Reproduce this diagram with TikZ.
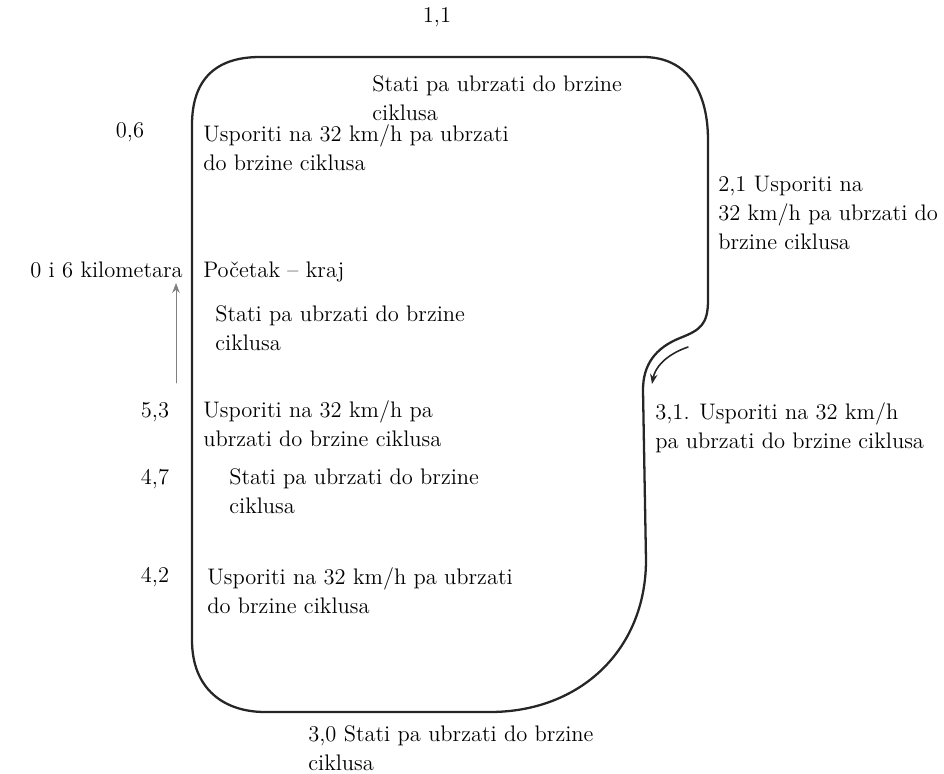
\documentclass[tikz,border=0pt]{standalone}
\usepackage{tikz}
\usetikzlibrary{arrows.meta}
\usepackage{xcolor}
\begin{document}
\begin{tikzpicture}[x=0.02cm,y=-0.02cm,>={Stealth[length=2mm]},font=\fontsize{12.8}{16.5}\selectfont,line cap=round,
  lbl/.style={anchor=base west,align=left,inner sep=0pt},
  km/.style={anchor=base,inner sep=0pt}]
\useasboundingbox (0,0) rectangle (944,774);
% staza
\draw[line width=1.3pt,black!85] (192,640) -- (192,125) .. controls (192,80) and (215,57) .. (260,57)
  -- (643,57) .. controls (690,57) and (708,95) .. (708,140) -- (708,300)
  .. controls (708,325) and (700,330) .. (680,338) .. controls (655,348) and (643,365) .. (643,390)
  -- (646,560) .. controls (646,650) and (580,712) .. (490,712) -- (265,712)
  .. controls (225,712) and (192,690) .. (192,640) -- cycle;
% smjer voznje
\coordinate (up0) at (176,383);
\coordinate (up1) at (176,283);
\draw[->,gray,thin] (up0) -- (up1);
\coordinate (sb0) at (688,347);
\coordinate (sb1) at (652,384);
\draw[->,line width=0.9pt,black!85] (sb0) .. controls (665,355) and (655,368) .. (sb1);
% kilometri
\node[km] (k11) at (437,22) {1,1};
\node[km] (k06) at (130,137) {0,6};
\node[lbl] (k0) at (30,277) {0 i 6 kilometara};
\node[km] (k53) at (155,417) {5,3};
\node[km] (k47) at (155,484) {4,7};
\node[km] (k42) at (155,582) {4,2};
% opisi (base = zadnji redak)
\node[lbl] (t11) at (372,120) {Stati pa ubrzati do brzine\\ciklusa};
\node[lbl] (t06) at (203,170) {Usporiti na 32 km/h pa ubrzati\\do brzine ciklusa};
\node[lbl] (t21) at (718,249) {2,1 Usporiti na\\32 km/h pa ubrzati do\\brzine ciklusa};
\node[lbl] (t0) at (203,277) {Početak -- kraj};
\node[lbl] (t57) at (215,350) {Stati pa ubrzati do brzine\\ciklusa};
\node[lbl] (t53) at (203,446) {Usporiti na 32 km/h pa\\ubrzati do brzine ciklusa};
\node[lbl] (t31) at (655,448) {3,1. Usporiti na 32 km/h\\pa ubrzati do brzine ciklusa};
\node[lbl] (t47) at (229,513) {Stati pa ubrzati do brzine\\ciklusa};
\node[lbl] (t42) at (207,613) {Usporiti na 32 km/h pa ubrzati\\do brzine ciklusa};
\node[lbl] (t30) at (308,770) {3,0 Stati pa ubrzati do brzine\\ciklusa};
\end{tikzpicture}
\end{document}
